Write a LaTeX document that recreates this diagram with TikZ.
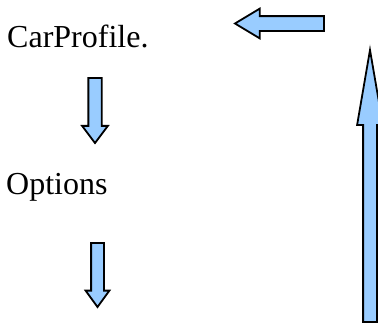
\documentclass[tikz,border=0pt]{standalone}
\usepackage{fontspec}
\setmainfont{Liberation Serif}
\usetikzlibrary{shapes.arrows}
\definecolor{arrowblue}{HTML}{99CCFF}
\tikzset{blockarrow/.style={single arrow,
                        draw=black,
                        fill=arrowblue,
                        line width=1.8pt,
                        inner xsep=0pt,
                        outer sep=0pt,
                        single arrow head indent=0pt,
                        anchor=tail
                        },
        label/.style={anchor=base west,
                        inner sep=0pt,
                        font=\fontsize{32}{38}\selectfont
        },
}
\begin{document}
\begin{tikzpicture}
    [x=1pt,y=-1pt]

    \useasboundingbox (0,0) rectangle (378,324);

    % TEXTS
    \node[label] (carProfile) at (7,47) {CarProfile.};
    \node[label] (options) at (6,194) {Options};

    % ARROWS
    \node[blockarrow, rotate=-90, minimum height=65pt, minimum width=24pt,
          inner ysep=5.75pt, single arrow head extend=6.25pt,
          single arrow tip angle=74] (downA) at (95,78) {};

    \node[blockarrow, rotate=-90, minimum height=64pt, minimum width=22pt,
          inner ysep=5.5pt, single arrow head extend=5.5pt,
          single arrow tip angle=72] (downB) at (97.5,243) {};

    \node[blockarrow, rotate=90, minimum height=272pt, minimum width=24pt,
          inner ysep=6pt, single arrow head extend=6pt,
          single arrow tip angle=19.5] (upBack) at (370,322) {};

    \node[blockarrow, rotate=180, minimum height=89pt, minimum width=28pt,
          inner ysep=6.5pt, single arrow head extend=7.5pt,
          single arrow tip angle=62] (leftBack) at (324,23.5) {};

\end{tikzpicture}
\end{document}
